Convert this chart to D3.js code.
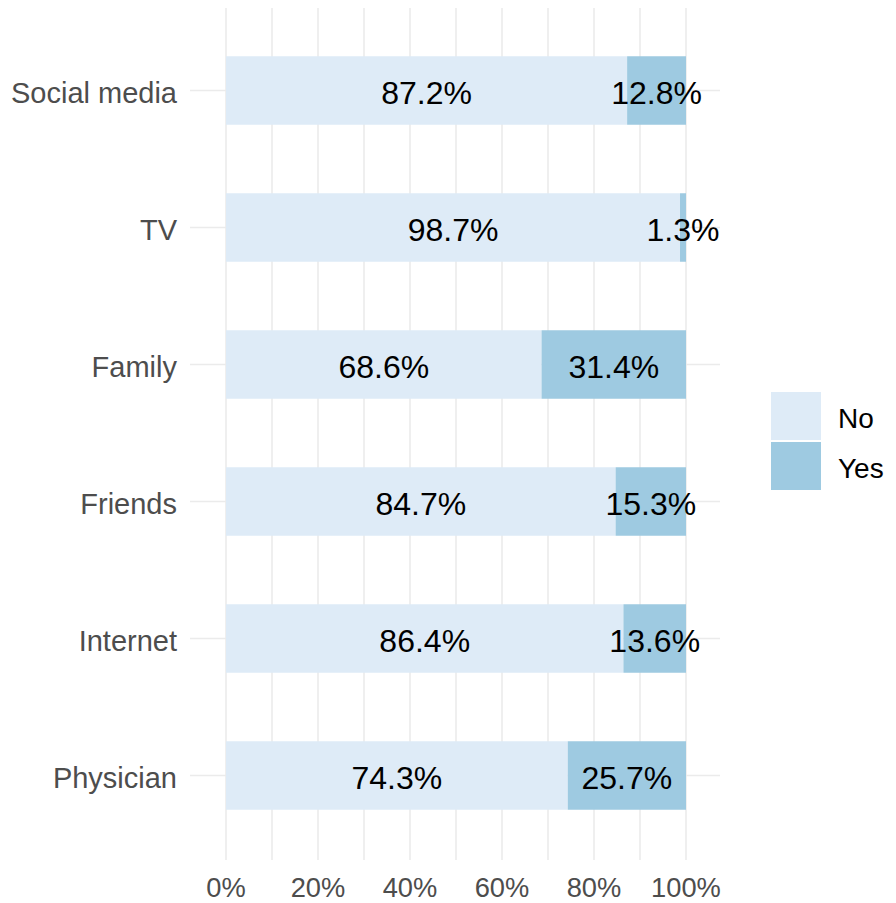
<!DOCTYPE html>
<html><head><meta charset="utf-8">
<script src="https://cdn.jsdelivr.net/npm/d3@7"></script>
<style>body{margin:0;background:#fff}svg{display:block}text{font-family:"Liberation Sans",Arial,sans-serif}</style>
</head><body><svg id="c" width="896" height="903"></svg>
<script>
const categories = ["Social media","TV","Family","Friends","Internet","Physician"];
const noValues = [87.2, 98.7, 68.6, 84.7, 86.4, 74.3];
const yesValues = [12.8, 1.3, 31.4, 15.3, 13.6, 25.7];
const seriesNames = ["No","Yes"];
const seriesColors = ["#deebf7","#9ecae1"];
const xTicks = [0,20,40,60,80,100];
const xMinor = [10,30,50,70,90];

const svg = d3.select("#c");
const x = d3.scaleLinear().domain([0,100]).range([226,686]);
const panelL = 190, panelR = 720, panelT = 8, panelB = 860;
const y = d3.scaleBand().domain(categories).range([22,844]).paddingInner(0.5).paddingOuter(0.25);

// grid
const g = svg.append("g");
g.selectAll("line.v").data(xTicks.concat(xMinor)).join("line")
  .attr("x1",d=>x(d)).attr("x2",d=>x(d)).attr("y1",panelT).attr("y2",panelB)
  .attr("stroke","#ebebeb").attr("stroke-width",1.6);
g.selectAll("line.h").data(categories).join("line")
  .attr("x1",panelL).attr("x2",panelR)
  .attr("y1",d=>y(d)+y.bandwidth()/2).attr("y2",d=>y(d)+y.bandwidth()/2)
  .attr("stroke","#ebebeb").attr("stroke-width",1.6);

// data
const rows = categories.map((c,i)=>({cat:c, No:noValues[i], Yes:yesValues[i]}));
const stack = d3.stack().keys(seriesNames)(rows);
const color = d3.scaleOrdinal().domain(seriesNames).range(seriesColors);

svg.append("g").selectAll("g").data(stack).join("g").attr("fill",d=>color(d.key))
  .selectAll("rect").data(d=>d).join("rect")
  .attr("x",d=>x(d[0])).attr("width",d=>x(d[1])-x(d[0]))
  .attr("y",d=>y(d.data.cat)).attr("height",y.bandwidth());

svg.append("g").selectAll("g").data(stack).join("g")
  .selectAll("text").data(d=>d.map(v=>({v, key:d.key}))).join("text")
  .attr("x",d=>x((d.v[0]+d.v[1])/2)).attr("y",d=>y(d.v.data.cat)+y.bandwidth()/2+2)
  .attr("dy","0.36em").attr("text-anchor","middle").attr("font-size",32).attr("fill","#000")
  .text(d=>d.v.data[d.key].toFixed(1)+"%");

// y axis labels
svg.append("g").selectAll("text").data(categories).join("text")
  .attr("x",177).attr("y",d=>y(d)+y.bandwidth()/2+2.5).attr("dy","0.36em")
  .attr("text-anchor","end").attr("font-size",29).attr("fill","#4d4d4d").text(d=>d);

// x axis labels
svg.append("g").selectAll("text").data(xTicks).join("text")
  .attr("x",d=>x(d)).attr("y",887).attr("dy","0.36em")
  .attr("text-anchor","middle").attr("font-size",27.3).attr("fill","#4d4d4d").text(d=>d+"%");

// legend
const lg = svg.append("g");
seriesNames.forEach((s,i)=>{
  lg.append("rect").attr("x",771).attr("y",392+i*50).attr("width",50).attr("height",48).attr("fill",seriesColors[i]);
  lg.append("text").attr("x",838).attr("y",418+i*50).attr("dy","0.36em").attr("font-size",28).attr("fill","#000").text(s);
});
</script></body></html>
